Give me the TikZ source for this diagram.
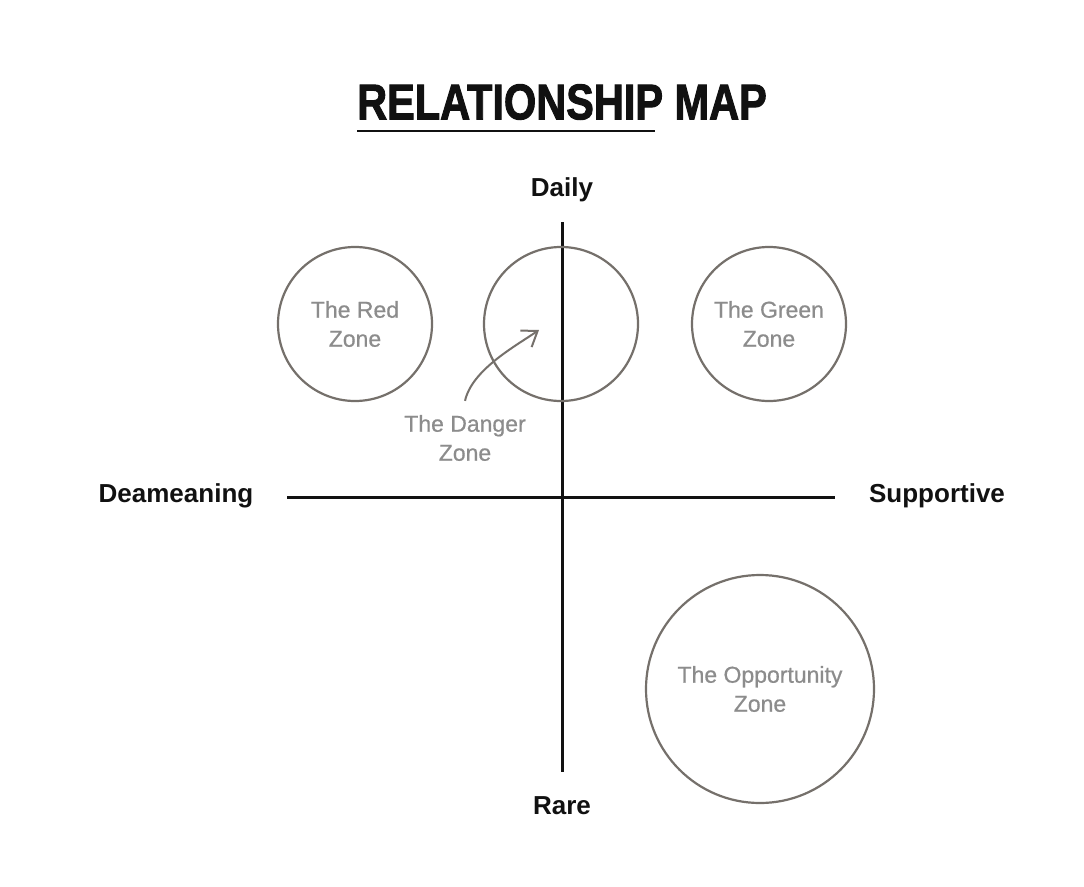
\documentclass[tikz,border=0pt]{standalone}
\usepackage{fontspec}
\setmainfont{Liberation Sans}
\newfontfamily\titlefont{Liberation Sans Bold}[FakeBold=2.2]
\newfontfamily\zonefont{Liberation Sans}[FakeBold=0.6]
\usepackage{xcolor}
\usetikzlibrary{arrows.meta,positioning}

\definecolor{ringgray}{HTML}{75706B}
\definecolor{labelgray}{HTML}{8C8C8C}
\definecolor{inkblack}{HTML}{111111}

\begin{document}
\begin{tikzpicture}[
  x=1pt, y=-1pt,
  zone/.style={circle, draw=ringgray, line width=2.2pt,
               inner sep=0pt, align=center, text=labelgray,
               font=\zonefont\fontsize{23}{29}\selectfont},
  axislabel/.style={font=\fontsize{26}{30}\selectfont\bfseries,
                    text=inkblack, inner sep=0pt},
  axis/.style={line width=3pt, inkblack},
  pointer/.style={-{Straight Barb[length=14pt,width=20pt]},
                  line width=2pt, ringgray}
]
\useasboundingbox[fill=white] (0,0) rectangle (1084,886);

\node[font=\titlefont\fontsize{50}{50}\selectfont, text=inkblack,
      inner sep=0pt, xscale=0.83] (title) at (562,102) {RELATIONSHIP MAP};
\coordinate (ulend) at (655,131);
\draw[line width=2.8pt, inkblack] (title.south west |- ulend) -- (ulend);

\coordinate (ytop) at (562,222);
\coordinate (ybot) at (562,772);
\coordinate (xleft) at (287,497);
\coordinate (xright) at (835,497);
\draw[axis] (ytop) -- (ybot);
\draw[axis] (xleft) -- (xright);

\node[axislabel] (daily) at (562,190) {Daily};
\node[axislabel] (rare) at (562,806) {Rare};
\node[axislabel] (deam) at (176,496) {Deameaning};
\node[axislabel] (supp) at (937,496) {Supportive};

\node[zone, minimum size=154pt] (red) at (355,324) {The Red\\Zone};
\node[zone, minimum size=154pt] (mid) at (561,324) {};
\node[zone, minimum size=154pt] (green) at (769,324) {The Green\\Zone};
\node[zone, minimum size=228pt] (opp) at (760,689) {The Opportunity\\Zone};

\node[align=center, text=labelgray, font=\zonefont\fontsize{23}{29}\selectfont,
      inner sep=0pt] (danger) at (465,438) {The Danger\\Zone};
\coordinate (dtip) at (539,330);
\draw[pointer] ([yshift=14pt]danger.north) .. controls (472,370) and (514,347) .. (dtip);
\end{tikzpicture}
\end{document}
